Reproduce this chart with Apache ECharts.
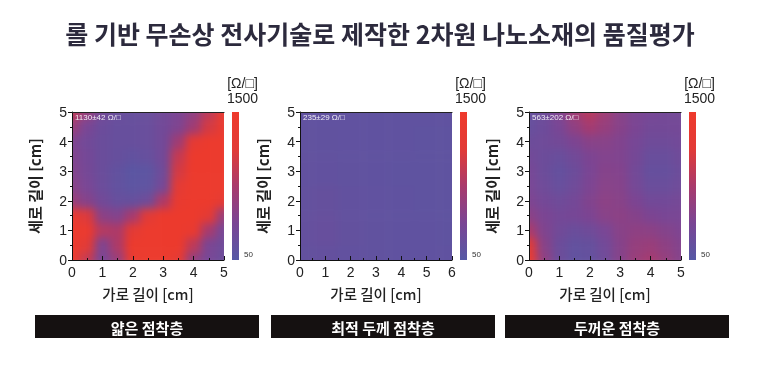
<!DOCTYPE html>
<html><head><meta charset="utf-8">
<script src="https://cdn.jsdelivr.net/npm/echarts@6/dist/echarts.min.js"></script>
<style>
html,body{margin:0;padding:0;background:#fff;}
#wrap{position:relative;width:760px;height:366px;overflow:hidden;}
#heat{position:absolute;left:0;top:0;width:760px;height:366px;filter:blur(4.5px);}
#main{position:absolute;left:0;top:0;width:760px;height:366px;}
</style></head><body>
<div id="wrap"><div id="heat"></div><div id="main"></div></div>
<script>
// ---------- data ----------
const chartTitle = '롤 기반 무손상 전사기술로 제작한 2차원 나노소재의 품질평가';
const panelNames = ['얇은 점착층', '최적 두께 점착층', '두꺼운 점착층'];
const annotations = ['1130±42 Ω/□', '235±29 Ω/□', '563±202 Ω/□'];
const xAxisName = '가로 길이 [cm]';
const yAxisName = '세로 길이 [cm]';
const unitLabel = '[Ω/□]';
const scaleMin = 50;
const scaleMax = 1500;
const xMaxes = [5, 6, 5];
const yMaxes = [5, 5, 5];

const p1X = ['0','0.5','1','1.5','2','2.5','3','3.5','4','4.5','5'];
const p1Y = ['0','0.5','1','1.5','2','2.5','3','3.5','4','4.5','5'];
// rows from y=0 (bottom) to y=5 (top)
const p1Values = [
  [1450, 950, 400, 650,1350,1450,1450,1250, 600, 380, 280],
  [1450,1150, 450, 800,1450,1450,1450,1450, 900, 420, 300],
  [1450,1400, 850, 800,1200,1450,1450,1450,1350, 750, 380],
  [1350,1100, 550, 480, 750,1150,1450,1450,1450,1200, 650],
  [ 650, 500, 330, 230, 220, 300, 800,1350,1450,1450,1250],
  [ 520, 400, 270, 180, 130, 150, 350,1200,1450,1450,1450],
  [ 480, 360, 260, 180, 110, 130, 300,1050,1450,1450,1450],
  [ 470, 350, 260, 220, 180, 220, 330, 950,1450,1450,1450],
  [ 450, 330, 260, 230, 230, 250, 330, 700,1250,1450,1450],
  [ 650, 400, 270, 230, 230, 250, 330, 450, 700,1050,1350],
  [ 900, 620, 330, 250, 230, 250, 330, 420, 580, 900,1350]
];

const p2X = ['0','1','2','3','4','5','6'];
const p2Y = ['0','1','2','3','4','5'];
const p2Values = [
  [190, 200, 180, 170, 160, 155, 155],
  [200, 230, 190, 170, 160, 155, 150],
  [190, 210, 180, 165, 155, 150, 150],
  [175, 175, 170, 160, 150, 150, 150],
  [170, 170, 165, 160, 155, 150, 150],
  [165, 165, 165, 160, 155, 155, 155]
];

const p3X = ['0','0.5','1','1.5','2','2.5','3','3.5','4','4.5','5'];
const p3Y = ['0','0.5','1','1.5','2','2.5','3','3.5','4','4.5','5'];
const p3Values = [
  [1400, 580, 280, 170, 190, 300, 500, 650, 740, 620, 500],
  [1150, 520, 280, 190, 210, 330, 500, 620, 650, 570, 480],
  [ 780, 460, 320, 260, 300, 400, 520, 570, 550, 490, 440],
  [ 540, 420, 350, 370, 430, 520, 550, 500, 430, 400, 400],
  [ 440, 350, 300, 350, 470, 550, 520, 430, 330, 330, 360],
  [ 400, 300, 230, 300, 430, 520, 500, 360, 260, 260, 300],
  [ 380, 280, 200, 280, 410, 500, 480, 340, 220, 220, 280],
  [ 330, 280, 250, 320, 430, 480, 460, 360, 250, 250, 300],
  [ 280, 300, 340, 430, 520, 520, 470, 380, 300, 300, 330],
  [ 230, 290, 400, 580, 740, 630, 510, 420, 340, 340, 350],
  [ 200, 290, 450, 700, 860, 690, 520, 420, 380, 350, 350]
];

const colorRamp = ['#5558a5', '#7a4594', '#a93a6c', '#e23a36', '#ee3a2c'];

// ---------- layout ----------
const rects = [
  {l: 72,  t: 112, w: 152, h: 148},
  {l: 300, t: 112, w: 152, h: 148},
  {l: 529, t: 112, w: 152, h: 148}
];
const panels = [
  {xs: p1X, ys: p1Y, vals: p1Values},
  {xs: p2X, ys: p2Y, vals: p2Values},
  {xs: p3X, ys: p3Y, vals: p3Values}
];
const CJK = "'Noto Sans CJK KR', 'Noto Sans', sans-serif";
const LAT = "'Liberation Sans', Arial, sans-serif";

// clip heatmap layer to plot rects
document.getElementById('heat').style.clipPath = "path('" + rects.map(r =>
  `M${r.l} ${r.t}H${r.l + r.w}V${r.t + r.h}H${r.l}Z`).join(' ') + "')";

// ---------- heatmap layer ----------
const heat = echarts.init(document.getElementById('heat'), null, {renderer: 'canvas'});
const hGrid = [], hX = [], hY = [], hSeries = [], hVM = [];
panels.forEach((p, i) => {
  const r = rects[i];
  const cw = r.w / (p.xs.length - 1), ch = r.h / (p.ys.length - 1);
  hGrid.push({left: r.l - cw / 2, top: r.t - ch / 2, width: r.w + cw, height: r.h + ch});
  hX.push({type: 'category', gridIndex: i, data: p.xs, show: false});
  hY.push({type: 'category', gridIndex: i, data: p.ys, show: false});
  const data = [];
  p.vals.forEach((row, yi) => row.forEach((v, xi) => data.push([xi, yi, v])));
  hSeries.push({type: 'heatmap', xAxisIndex: i, yAxisIndex: i, data: data,
    itemStyle: {borderWidth: 0}, emphasis: {disabled: true}});
  hVM.push({type: 'continuous', show: false, seriesIndex: i, min: scaleMin, max: scaleMax,
    inRange: {color: colorRamp}});
});
heat.setOption({animation: false, grid: hGrid, xAxis: hX, yAxis: hY, series: hSeries, visualMap: hVM});

// ---------- axes / text layer ----------
const main = echarts.init(document.getElementById('main'), null, {renderer: 'svg'});
const grid = [], xAxis = [], yAxis = [], graphic = [];
const lineStyle = {color: '#111', width: 1};
const gradStops = colorRamp.slice().reverse().map((c, k) => ({offset: k / (colorRamp.length - 1), color: c}));
rects.forEach((r, i) => {
  grid.push({left: r.l, top: r.t, width: r.w, height: r.h});
  xAxis.push({
    type: 'value', gridIndex: i, min: 0, max: xMaxes[i], interval: 1,
    axisLine: {show: true, lineStyle: lineStyle},
    axisTick: {show: true, inside: true, length: 4, lineStyle: lineStyle},
    minorTick: {show: true, splitNumber: 2, length: 2, lineStyle: lineStyle},
    splitLine: {show: false},
    axisLabel: {color: '#222', fontSize: 14, fontFamily: LAT, margin: 5},
    name: xAxisName, nameLocation: 'middle', nameGap: 26,
    nameTextStyle: {color: '#222', fontSize: 14.5, fontFamily: CJK, fontWeight: 500}
  });
  xAxis.push({
    type: 'value', gridIndex: i, min: 0, max: xMaxes[i], position: 'top',
    axisLine: {show: true, lineStyle: {color: '#222', width: 1.2}},
    axisTick: {show: false}, axisLabel: {show: false}, splitLine: {show: false}
  });
  yAxis.push({
    type: 'value', gridIndex: i, min: 0, max: yMaxes[i], interval: 1,
    axisLine: {show: true, lineStyle: lineStyle},
    axisTick: {show: true, inside: false, length: 4, lineStyle: lineStyle},
    minorTick: {show: true, splitNumber: 2, length: 2, lineStyle: lineStyle},
    splitLine: {show: false},
    axisLabel: {color: '#222', fontSize: 14, fontFamily: LAT, margin: 5},
    name: yAxisName, nameLocation: 'middle', nameGap: 30, nameRotate: 90,
    nameTextStyle: {color: '#222', fontSize: 15, fontFamily: CJK, fontWeight: 'bold'}
  });
  // colour bar
  const bx = r.l + r.w + 8, bw = 7;
  graphic.push({type: 'rect', shape: {x: bx, y: r.t, width: bw, height: r.h}, silent: true,
    style: {fill: new echarts.graphic.LinearGradient(0, 0, 0, 1, gradStops)}});
  graphic.push({type: 'text', x: bx + bw / 2 + 7, y: 83, silent: true,
    style: {text: unitLabel, fill: '#222', font: `14px ${LAT}`, textAlign: 'center', textVerticalAlign: 'middle'}});
  graphic.push({type: 'text', x: bx + bw / 2 + 7, y: 98, silent: true,
    style: {text: String(scaleMax), fill: '#222', font: `14px ${LAT}`, textAlign: 'center', textVerticalAlign: 'middle'}});
  graphic.push({type: 'text', x: bx + bw + 5, y: r.t + r.h - 6, silent: true,
    style: {text: String(scaleMin), fill: '#333', font: `8px ${LAT}`, textAlign: 'left', textVerticalAlign: 'middle'}});
  // annotation
  graphic.push({type: 'text', x: r.l + 3, y: r.t + 5, silent: true,
    style: {text: annotations[i], fill: 'rgba(255,255,255,0.9)', font: `8px ${LAT}`, textAlign: 'left', textVerticalAlign: 'middle'}});
});
const boxes = [{x: 35, w: 224}, {x: 271, w: 224}, {x: 505, w: 224}];
boxes.forEach((b, i) => {
  graphic.push({type: 'rect', shape: {x: b.x, y: 315, width: b.w, height: 23}, silent: true,
    style: {fill: '#151111'}});
  graphic.push({type: 'text', x: b.x + b.w / 2, y: 327, silent: true,
    style: {text: panelNames[i], fill: '#fff', font: `bold 15px ${CJK}`, textAlign: 'center', textVerticalAlign: 'middle'}});
});
main.setOption({
  animation: false,
  backgroundColor: 'transparent',
  title: {text: chartTitle, left: 'center', top: 15,
    textStyle: {color: '#2c2a3d', fontSize: 25, fontWeight: 'bold', fontFamily: CJK}},
  grid: grid, xAxis: xAxis, yAxis: yAxis, graphic: graphic, series: []
});
</script>
</body></html>
